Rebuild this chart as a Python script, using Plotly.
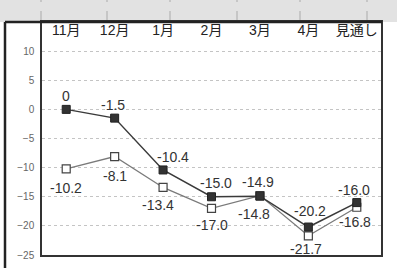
import plotly.graph_objects as go

categories = ["11月", "12月", "1月", "2月", "3月", "4月", "見通し"]
series_a = [0, -1.5, -10.4, -15.0, -14.9, -20.2, -16.0]
series_b = [-10.2, -8.1, -13.4, -17.0, -14.8, -21.7, -16.8]
y_ticks = [-25, -20, -15, -10, -5, 0, 5, 10, 15]

# label placement (style only): pixel offsets relative to each marker
shift_a_x = [0, -2, 10, 4, -2, 2, -3]
shift_a_y = [13, 13, 13, 14, 14, 16, 13]
shift_b_x = [0, 0, -5, 0, -6, -2, -2]
shift_b_y = [-19, -19, -18, -17, -18, -13, -15]


def fmt(v):
    return "0" if v == 0 else f"{v:.1f}"


FONT = "Liberation Sans, Arial, Noto Sans CJK JP, sans-serif"

fig = go.Figure()
fig.add_trace(go.Scatter(
    x=categories, y=series_b, mode="lines+markers",
    line=dict(color="#7a7a7a", width=1.3),
    marker=dict(symbol="square", size=8, color="white",
                line=dict(color="#444", width=1.2)),
    cliponaxis=False, showlegend=False, hoverinfo="skip",
))
fig.add_trace(go.Scatter(
    x=categories, y=series_a, mode="lines+markers",
    line=dict(color="#3a3a3a", width=1.5),
    marker=dict(symbol="square", size=8, color="#333",
                line=dict(color="#222", width=1)),
    cliponaxis=False, showlegend=False, hoverinfo="skip",
))

annotations = []
for c, v, dx, dy in zip(categories, series_a, shift_a_x, shift_a_y):
    annotations.append(dict(x=c, y=v, xref="x", yref="y", text=fmt(v),
                            showarrow=False, xshift=dx, yshift=dy,
                            font=dict(size=14, color="#333", family=FONT)))
for c, v, dx, dy in zip(categories, series_b, shift_b_x, shift_b_y):
    annotations.append(dict(x=c, y=v, xref="x", yref="y", text=fmt(v),
                            showarrow=False, xshift=dx, yshift=dy,
                            font=dict(size=14, color="#333", family=FONT)))

W, H = 397, 268
ml, mr, mt, mb = 42, 16, 22, 13
ph = H - mt - mb
pw = W - ml - mr

shapes = []
# grey scanned band at the top
shapes.append(dict(type="rect", xref="paper", yref="paper",
                   x0=-ml / pw, x1=1 + mr / pw, y0=1, y1=1 + mt / ph,
                   fillcolor="#e2e2e2", line=dict(width=0), layer="below"))
for px in [41, 107, 170, 237, 300, 367]:
    shapes.append(dict(type="line", xref="paper", yref="paper",
                       x0=(px - ml) / pw, x1=(px - ml) / pw,
                       y0=1 + 2 / ph, y1=1 + mt / ph,
                       line=dict(color="#aaa", width=1, dash="dash")))
# thick frame: top and outer left
shapes.append(dict(type="line", xref="paper", yref="paper",
                   x0=(5 - ml) / pw, x1=1 + 1 / pw, y0=1, y1=1,
                   line=dict(color="#222", width=2.5)))
shapes.append(dict(type="line", xref="paper", yref="paper",
                   x0=(5 - ml) / pw, x1=(5 - ml) / pw, y0=-mb / ph, y1=1,
                   line=dict(color="#222", width=2.5)))

fig.update_layout(
    width=W, height=H,
    margin=dict(l=ml, r=mr, t=mt, b=mb, pad=0, autoexpand=False),
    paper_bgcolor="white", plot_bgcolor="white",
    font=dict(family=FONT, color="#333"),
    shapes=shapes, annotations=annotations,
    xaxis=dict(
        type="category", categoryorder="array", categoryarray=categories,
        range=[-0.5, 6.5], side="top", ticklabelposition="inside",
        tickfont=dict(size=14, color="#222"), automargin=False,
        ticklabelstandoff=3,
        showline=True, mirror=True, linecolor="#333", linewidth=1.5,
        showgrid=False, ticks="", zeroline=False,
    ),
    yaxis=dict(
        range=[-25, 15], tickvals=y_ticks, automargin=False,
        tickfont=dict(size=10, color="#666"),
        showline=True, mirror=True, linecolor="#333", linewidth=1.5,
        showgrid=True, gridcolor="#c4c4c4", griddash="dot", gridwidth=1,
        zeroline=False, ticks="", ticklabelstandoff=4,
    ),
)

fig.write_html("out.html", config={"displayModeBar": False},
               post_script="document.body.style.margin='0';document.body.style.overflow='hidden';")
